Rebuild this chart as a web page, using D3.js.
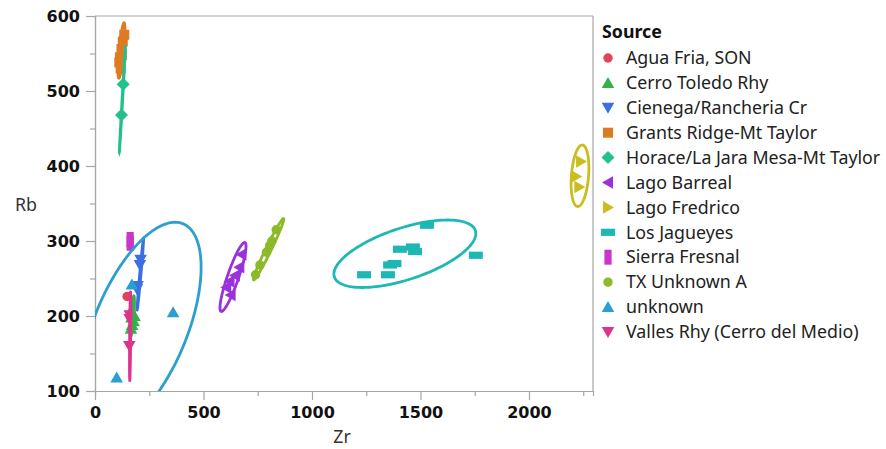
<!DOCTYPE html>
<html>
<head>
<meta charset="utf-8">
<script src="https://cdn.jsdelivr.net/npm/d3@7"></script>
<style>
  html, body { margin: 0; padding: 0; background: #fff; }
  svg { display: block; }
</style>
</head>
<body>
<svg id="chart" width="886" height="449"></svg>
<script>
// Source groups, in legend order
const sources = [
  "Agua Fria, SON", "Cerro Toledo Rhy", "Cienega/Rancheria Cr", "Grants Ridge-Mt Taylor",
  "Horace/La Jara Mesa-Mt Taylor", "Lago Barreal", "Lago Fredrico", "Los Jagueyes",
  "Sierra Fresnal", "TX Unknown A", "unknown", "Valles Rhy (Cerro del Medio)"
];
const colors = [
  "#e0435a", "#35b04a", "#3d6fe0", "#e07a22",
  "#22c08e", "#9a32dc", "#c9be1e", "#1eb8b4",
  "#c936c9", "#8cba28", "#2b9fd0", "#e0318c"
];
const shapes = [
  "circle", "triUp", "triDown", "square",
  "diamond", "triLeft", "triRight", "wideRect",
  "tallRect", "circle", "triUp", "triDown"
];

// Zr / Rb measurements (ppm) for each source
const aguaFria      = [[148, 226]];
const cerroToledo   = [[166, 207], [174, 203], [168, 198], [178, 193], [171, 188], [166, 183], [182, 200]];
const cienega       = [[210, 275], [207, 268], [196, 240], [193, 236]];
const grantsRidge   = [[135, 575], [128, 566], [122, 556], [115, 545], [112, 538], [118, 530], [124, 548]];
const horaceLaJara  = [[130, 509], [122, 468]];
const lagoBarreal   = [[675, 282], [665, 265], [645, 254], [620, 246], [625, 228], [605, 238]];
const lagoFredrico  = [[2240, 406], [2218, 386], [2232, 372]];
const losJagueyes   = [[1240, 255], [1350, 255], [1360, 268], [1380, 270], [1405, 289], [1465, 292], [1475, 286], [1530, 321], [1755, 281]];
const sierraFresnal = [[162, 302], [162, 297]];
const txUnknownA    = [[740, 255], [760, 268], [790, 285], [805, 294], [815, 300], [835, 315]];
const unknownPts    = [[100, 118], [170, 242], [360, 205]];
const vallesRhy     = [[160, 201], [160, 196], [158, 160]];

const groupPoints = [aguaFria, cerroToledo, cienega, grantsRidge, horaceLaJara, lagoBarreal,
  lagoFredrico, losJagueyes, sierraFresnal, txUnknownA, unknownPts, vallesRhy];

// Density ellipses: [centre Zr, centre Rb, Zr half-extent, Rb half-extent, correlation]
const ellipses = [
  null,
  [172, 200, 10, 27, 0.7],
  [209, 256, 15, 48, 0.98],
  [122, 554, 16, 37, 0.75],
  [126, 488, 14, 70, 0.995],
  [636, 252, 60, 46, 0.89],
  [2235, 387, 41, 41, 0.25],
  [1428, 283, 327, 45, 0.6],
  null,
  [800, 289, 70, 41, 0.98],
  [210, 185, 279, 140, 0.57],
  [162, 173, 3, 59, 0.6]
];

// Axis ticks
const xTicks = [0, 500, 1000, 1500, 2000];
const xMinor = [250, 750, 1250, 1750, 2250];
const yTicks = [100, 200, 300, 400, 500, 600];
const yMinor = [150, 250, 350, 450, 550];

const svg = d3.select("#chart");
const plotL = 95, plotR = 593, plotT = 16, plotB = 391;
const x = d3.scaleLinear().domain([0, 2295]).range([plotL, plotR]);
const y = d3.scaleLinear().domain([100, 600]).range([plotB, plotT]);

const axisColor = "#a6a6a6";
const tickFont = "'DejaVu Sans', Verdana, sans-serif";
const textFont = "'Noto Sans', 'Open Sans', sans-serif";
const textSize = 17.8;

// Marker path generator centred on 0,0
function markerPath(shape) {
  switch (shape) {
    case "circle": return d3.symbol(d3.symbolCircle, 70)();
    case "square": return "M-5,-5H5V5H-5Z";
    case "diamond": return "M0,-6.5L6.5,0L0,6.5L-6.5,0Z";
    case "triUp": return "M0,-6L6.3,5H-6.3Z";
    case "triDown": return "M0,6L6.3,-5H-6.3Z";
    case "triLeft": return "M-6,0L5,-6.3V6.3Z";
    case "triRight": return "M6,0L-5,-6.3V6.3Z";
    case "wideRect": return "M-7,-3.6H7V3.6H-7Z";
    case "tallRect": return "M-3.6,-7.5H3.6V7.5H-3.6Z";
  }
}

// Plot frame
svg.append("line").attr("x1", plotL).attr("x2", plotR).attr("y1", plotT).attr("y2", plotT)
  .attr("stroke", axisColor).attr("stroke-width", 1.2);
svg.append("line").attr("x1", plotR).attr("x2", plotR).attr("y1", plotT).attr("y2", plotB)
  .attr("stroke", axisColor).attr("stroke-width", 1.2);

// Axes
const xAxis = svg.append("g").attr("transform", `translate(0,${plotB})`)
  .call(d3.axisBottom(x).tickValues(xTicks).tickFormat(d3.format("d"))
    .tickSize(9).tickSizeOuter(0).tickPadding(4));
const xAxisMinor = svg.append("g").attr("transform", `translate(0,${plotB})`)
  .call(d3.axisBottom(x).tickValues(xMinor).tickSize(5).tickFormat(""));
const yAxis = svg.append("g").attr("transform", `translate(${plotL},0)`)
  .call(d3.axisLeft(y).tickValues(yTicks).tickFormat(d3.format("d"))
    .tickSize(9).tickSizeOuter(0).tickPadding(6));
const yAxisMinor = svg.append("g").attr("transform", `translate(${plotL},0)`)
  .call(d3.axisLeft(y).tickValues(yMinor).tickSize(5).tickFormat(""));

[xAxis, xAxisMinor, yAxis, yAxisMinor].forEach(g => {
  g.selectAll("path.domain").attr("stroke", axisColor).attr("stroke-width", 1.2);
  g.selectAll(".tick line").attr("stroke", axisColor).attr("stroke-width", 1.2);
  g.selectAll("text").attr("font-family", tickFont).attr("font-weight", "bold")
    .attr("font-size", 16).attr("fill", "#111");
});
yAxis.selectAll("text").attr("dy", "0.36em");
xAxis.selectAll("text").attr("dy", "0.9em");

// Axis titles
svg.append("text").attr("x", 342).attr("y", 443).attr("text-anchor", "middle")
  .attr("font-family", textFont).attr("font-size", textSize).attr("fill", "#333").text("Zr");
svg.append("text").attr("x", 26).attr("y", 211).attr("text-anchor", "middle")
  .attr("font-family", textFont).attr("font-size", textSize).attr("fill", "#333").text("Rb");

// Clip region for the plotted marks
svg.append("clipPath").attr("id", "plotClip").append("rect")
  .attr("x", plotL).attr("y", plotT).attr("width", plotR - plotL).attr("height", plotB - plotT);
const plot = svg.append("g").attr("clip-path", "url(#plotClip)");

// Ellipse outline from centre, extents and correlation (in data units)
function ellipsePoints(e) {
  const [cx, cy, rx, ry, rho] = e;
  const s = Math.sqrt(1 - rho * rho);
  return d3.range(0, 361, 2).map(a => {
    const t = a * Math.PI / 180;
    return [cx + rx * Math.cos(t), cy + ry * (rho * Math.cos(t) + s * Math.sin(t))];
  });
}
const ellipseLine = d3.line().x(d => x(d[0])).y(d => y(d[1])).curve(d3.curveLinearClosed);

// Markers
groupPoints.forEach((pts, i) => {
  plot.append("g").selectAll("path").data(pts).join("path")
    .attr("transform", d => `translate(${x(d[0])},${y(d[1])})`)
    .attr("d", markerPath(shapes[i]))
    .attr("fill", colors[i]);
});

// Ellipses drawn over the markers
ellipses.forEach((e, i) => {
  if (!e) return;
  plot.append("path").attr("d", ellipseLine(ellipsePoints(e)))
    .attr("fill", "none").attr("stroke", colors[i]).attr("stroke-width", 2.8);
});

// Legend
const legend = svg.append("g").attr("transform", "translate(602,0)");
legend.append("text").attr("x", 0).attr("y", 38)
  .attr("font-family", textFont).attr("font-weight", "bold").attr("font-size", textSize)
  .attr("fill", "#111").text("Source");
sources.forEach((name, i) => {
  const cy = 58 + i * 24.9;
  legend.append("path").attr("transform", `translate(6,${cy})`)
    .attr("d", markerPath(shapes[i])).attr("fill", colors[i]);
  legend.append("text").attr("x", 24).attr("y", cy).attr("dy", "0.35em")
    .attr("font-family", textFont).attr("font-size", textSize).attr("fill", "#222").text(name);
});
</script>
</body>
</html>
